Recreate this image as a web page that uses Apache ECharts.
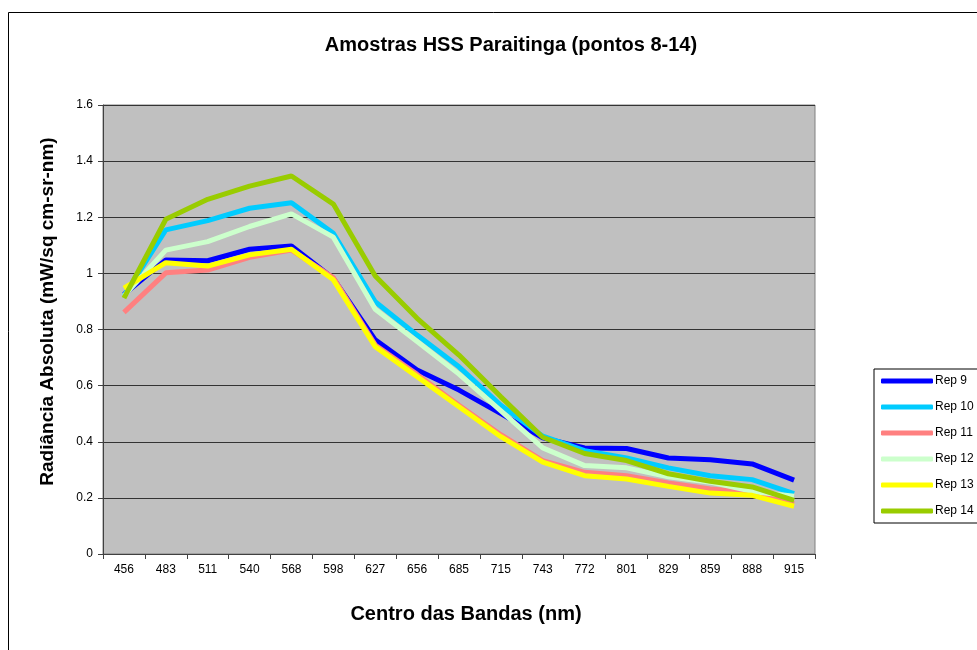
<!DOCTYPE html>
<html>
<head>
<meta charset="utf-8">
<style>
  html, body { margin: 0; padding: 0; background: #fff; }
  #chart { width: 977px; height: 650px; }
</style>
<script src="https://cdn.jsdelivr.net/npm/echarts@6/dist/echarts.min.js"></script>
</head>
<body>
<div id="chart"></div>
<script>
var bandas = ['456', '483', '511', '540', '568', '598', '627', '656', '685', '715', '743', '772', '801', '829', '859', '888', '915'];
var rep9  = [0.925, 1.048, 1.045, 1.086, 1.098, 0.982, 0.763, 0.656, 0.584, 0.500, 0.414, 0.378, 0.376, 0.342, 0.336, 0.321, 0.263];
var rep10 = [0.920, 1.155, 1.188, 1.232, 1.252, 1.143, 0.899, 0.780, 0.667, 0.530, 0.420, 0.368, 0.342, 0.307, 0.279, 0.265, 0.215];
var rep11 = [0.861, 1.002, 1.012, 1.057, 1.083, 0.985, 0.745, 0.640, 0.530, 0.425, 0.333, 0.291, 0.279, 0.253, 0.232, 0.220, 0.179];
var rep12 = [0.920, 1.083, 1.113, 1.167, 1.212, 1.129, 0.872, 0.757, 0.641, 0.510, 0.378, 0.315, 0.307, 0.275, 0.256, 0.223, 0.206];
var rep13 = [0.947, 1.038, 1.026, 1.066, 1.086, 0.977, 0.739, 0.632, 0.525, 0.418, 0.327, 0.279, 0.267, 0.241, 0.217, 0.209, 0.170];
var rep14 = [0.912, 1.193, 1.264, 1.311, 1.347, 1.247, 0.991, 0.840, 0.709, 0.560, 0.416, 0.358, 0.333, 0.286, 0.259, 0.239, 0.191];

var nomes = ['Rep 9', 'Rep 10', 'Rep 11', 'Rep 12', 'Rep 13', 'Rep 14'];
var cores = ['#0000FF', '#00CCFF', '#FF8080', '#CCFFCC', '#FFFF00', '#99CC00'];
var valores = [rep9, rep10, rep11, rep12, rep13, rep14];

var fonte = '"Liberation Sans", Arial, sans-serif';

var chart = echarts.init(document.getElementById('chart'), null, { renderer: 'canvas' });

var series = nomes.map(function(n, i) {
  return {
    name: n,
    type: 'line',
    data: valores[i],
    symbol: 'none',
    lineStyle: { color: cores[i], width: 5 },
    itemStyle: { color: cores[i] },
    z: 2 + i
  };
});

chart.setOption({
  animation: false,
  backgroundColor: '#fff',
  textStyle: { fontFamily: fonte },
  graphic: [{
    type: 'rect',
    shape: { x: 8.5, y: 12.5, width: 1000, height: 700 },
    style: { fill: 'none', stroke: '#000', lineWidth: 1 },
    silent: true
  }],
  title: {
    text: 'Amostras HSS Paraitinga (pontos 8-14)',
    left: 506,
    textAlign: 'center',
    top: 30,
    textStyle: { fontSize: 20, fontWeight: 'bold', color: '#000', fontFamily: fonte }
  },
  legend: {
    data: nomes,
    orient: 'vertical',
    left: 874,
    top: 369,
    padding: [5, 60, 5, 7],
    itemGap: 12,
    itemWidth: 52,
    itemHeight: 5,
    icon: 'roundRect',
    backgroundColor: '#fff',
    borderColor: '#000',
    borderWidth: 1,
    textStyle: { fontSize: 12, color: '#000', lineHeight: 14, fontFamily: fonte, padding: [0, 0, 0, -3] }
  },
  grid: {
    left: 103, right: 162, top: 105, bottom: 96,
    show: true,
    backgroundColor: '#C0C0C0',
    borderColor: '#808080',
    borderWidth: 1
  },
  xAxis: {
    type: 'category',
    data: bandas,
    boundaryGap: true,
    name: 'Centro das Bandas (nm)',
    nameLocation: 'middle',
    nameGap: 50,
    nameTextStyle: { fontSize: 20, fontWeight: 'bold', color: '#000', fontFamily: fonte, padding: [0, 0, 0, 14] },
    axisLine: { lineStyle: { color: '#404040', width: 1 } },
    axisTick: { show: true, inside: false, length: 5, lineStyle: { color: '#404040' } },
    axisLabel: { fontSize: 12, color: '#000', margin: 10, interval: 0 },
    splitLine: { show: false }
  },
  yAxis: {
    type: 'value',
    min: 0,
    max: 1.6,
    interval: 0.2,
    name: 'Radiância Absoluta (mW/sq cm-sr-nm)',
    nameLocation: 'middle',
    nameGap: 46,
    nameTextStyle: { fontSize: 19, fontWeight: 'bold', color: '#000', fontFamily: fonte, padding: [0, 0, 0, 36] },
    axisLine: { show: true, lineStyle: { color: '#404040', width: 1 } },
    axisTick: { show: true, inside: false, length: 5, lineStyle: { color: '#404040' } },
    axisLabel: { fontSize: 12, color: '#000', margin: 10 },
    splitLine: { show: true, lineStyle: { color: '#333', width: 1 } }
  },
  series: series
});
</script>
</body>
</html>
